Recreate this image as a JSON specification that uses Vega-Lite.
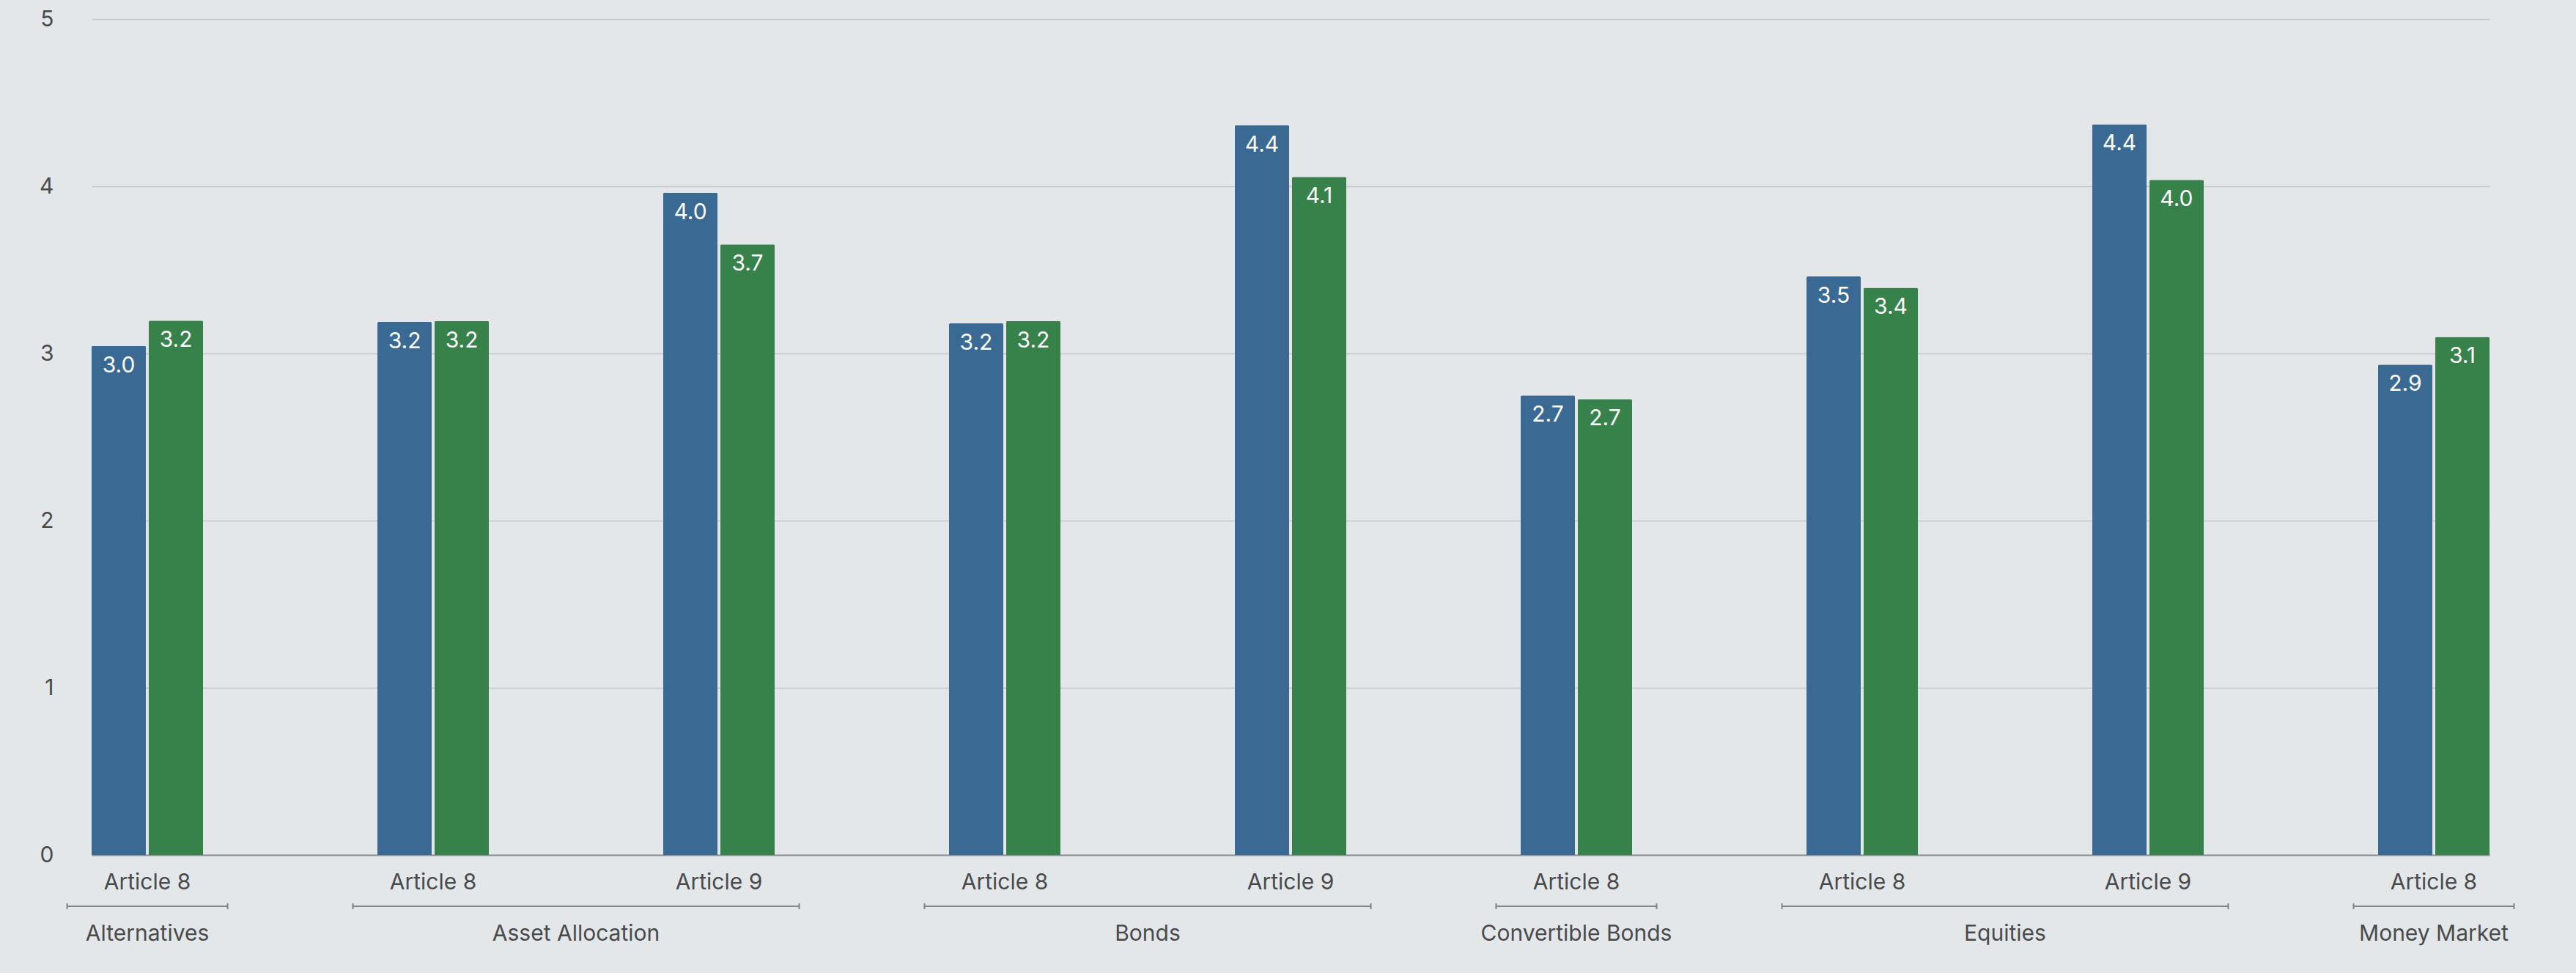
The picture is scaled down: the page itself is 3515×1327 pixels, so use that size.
{
  "$schema": "https://vega.github.io/schema/vega-lite/v6.json",
  "width": 3272,
  "height": 1140,
  "autosize": {"type": "none"},
  "padding": {"left": 125, "top": 26, "right": 118, "bottom": 161},
  "background": "#e3e7ea",
  "config": {
    "view": {"stroke": null},
    "font": "Inter",
    "axis": {"title": null},
    "axisX": {
      "labelAngle": 0, "labelFontSize": 30, "labelFont": "Inter", "labelColor": "#4a4a4a", "labelPadding": 22,
      "ticks": false, "domainColor": "#8c8f92", "domainWidth": 2, "grid": false
    },
    "axisY": {
      "labelFontSize": 30, "labelFont": "Inter", "labelColor": "#4a4a4a", "labelPadding": 52,
      "domain": false, "ticks": false, "gridColor": "#c4c8cc", "gridWidth": 1.5
    }
  },
  "datasets": {
    "bars": [
      {"key": "Alternatives|Article 8", "series": "Series 1", "value": 3.045},
      {"key": "Alternatives|Article 8", "series": "Series 2", "value": 3.196},
      {"key": "Asset Allocation|Article 8", "series": "Series 1", "value": 3.189},
      {"key": "Asset Allocation|Article 8", "series": "Series 2", "value": 3.194},
      {"key": "Asset Allocation|Article 9", "series": "Series 1", "value": 3.962},
      {"key": "Asset Allocation|Article 9", "series": "Series 2", "value": 3.652},
      {"key": "Bonds|Article 8", "series": "Series 1", "value": 3.18},
      {"key": "Bonds|Article 8", "series": "Series 2", "value": 3.194},
      {"key": "Bonds|Article 9", "series": "Series 1", "value": 4.365},
      {"key": "Bonds|Article 9", "series": "Series 2", "value": 4.056},
      {"key": "Convertible Bonds|Article 8", "series": "Series 1", "value": 2.749},
      {"key": "Convertible Bonds|Article 8", "series": "Series 2", "value": 2.727},
      {"key": "Equities|Article 8", "series": "Series 1", "value": 3.46},
      {"key": "Equities|Article 8", "series": "Series 2", "value": 3.393},
      {"key": "Equities|Article 9", "series": "Series 1", "value": 4.371},
      {"key": "Equities|Article 9", "series": "Series 2", "value": 4.038},
      {"key": "Money Market|Article 8", "series": "Series 1", "value": 2.933},
      {"key": "Money Market|Article 8", "series": "Series 2", "value": 3.099}
    ],
    "groups": [
      {"group": "Alternatives", "first": "Alternatives|Article 8", "last": "Alternatives|Article 8", "span": 1},
      {"group": "Asset Allocation", "first": "Asset Allocation|Article 8", "last": "Asset Allocation|Article 9", "span": 2},
      {"group": "Bonds", "first": "Bonds|Article 8", "last": "Bonds|Article 9", "span": 2},
      {"group": "Convertible Bonds", "first": "Convertible Bonds|Article 8", "last": "Convertible Bonds|Article 8", "span": 1},
      {"group": "Equities", "first": "Equities|Article 8", "last": "Equities|Article 9", "span": 2},
      {"group": "Money Market", "first": "Money Market|Article 8", "last": "Money Market|Article 8", "span": 1}
    ]
  },
  "layer": [
    {
      "data": {"name": "bars"},
      "mark": {"type": "bar", "cornerRadiusTopLeft": 2, "cornerRadiusTopRight": 2},
      "encoding": {
        "x": {
          "field": "key", "type": "nominal", "sort": null,
          "scale": {
            "domain": ["Alternatives|Article 8", "Asset Allocation|Article 8", "Asset Allocation|Article 9", "Bonds|Article 8", "Bonds|Article 9", "Convertible Bonds|Article 8", "Equities|Article 8", "Equities|Article 9", "Money Market|Article 8"],
            "paddingInner": 0.61, "paddingOuter": 0
          },
          "axis": {"title": null, "labelExpr": "split(datum.value, '|')[1]"}
        },
        "xOffset": {"field": "series", "type": "nominal", "scale": {"paddingInner": 0.05, "paddingOuter": 0}},
        "y": {
          "field": "value", "type": "quantitative",
          "scale": {"domain": [0, 5], "nice": false},
          "axis": {"title": null, "values": [0, 1, 2, 3, 4, 5], "format": "d"}
        },
        "color": {
          "field": "series", "type": "nominal",
          "scale": {"domain": ["Series 1", "Series 2"], "range": ["#3a6a94", "#37824a"]},
          "legend": null
        }
      }
    },
    {
      "data": {"name": "bars"},
      "mark": {"type": "text", "align": "center", "baseline": "alphabetic", "dy": 36, "fontSize": 30, "color": "#ffffff", "font": "Inter"},
      "encoding": {
        "x": {"field": "key", "type": "nominal"},
        "xOffset": {"field": "series", "type": "nominal"},
        "y": {"field": "value", "type": "quantitative"},
        "text": {"field": "value", "type": "quantitative", "format": ".1f"}
      }
    },
    {
      "data": {"name": "groups"},
      "mark": {"type": "rule", "color": "#808285", "strokeWidth": 2},
      "encoding": {
        "x": {"field": "first", "type": "nominal", "bandPosition": -0.22},
        "x2": {"field": "last", "bandPosition": 1.22},
        "y": {"datum": -0.307}
      }
    },
    {
      "data": {"name": "groups"},
      "mark": {"type": "rule", "color": "#808285", "strokeWidth": 2},
      "encoding": {
        "x": {"field": "first", "type": "nominal", "bandPosition": -0.22},
        "y": {"datum": -0.2895},
        "y2": {"datum": -0.3246}
      }
    },
    {
      "data": {"name": "groups"},
      "mark": {"type": "rule", "color": "#808285", "strokeWidth": 2},
      "encoding": {
        "x": {"field": "last", "type": "nominal", "bandPosition": 1.22},
        "y": {"datum": -0.2895},
        "y2": {"datum": -0.3246}
      }
    },
    {
      "data": {"name": "groups"},
      "transform": [{"filter": "datum.span == 1"}],
      "mark": {"type": "text", "align": "center", "baseline": "alphabetic", "fontSize": 30, "color": "#4a4a4a", "font": "Inter"},
      "encoding": {
        "x": {"field": "first", "type": "nominal", "bandPosition": 0.5},
        "y": {"datum": -0.513},
        "text": {"field": "group", "type": "nominal"}
      }
    },
    {
      "data": {"name": "groups"},
      "transform": [{"filter": "datum.span == 2"}],
      "mark": {"type": "text", "align": "center", "baseline": "alphabetic", "fontSize": 30, "color": "#4a4a4a", "font": "Inter"},
      "encoding": {
        "x": {"field": "first", "type": "nominal", "bandPosition": 1.782},
        "y": {"datum": -0.513},
        "text": {"field": "group", "type": "nominal"}
      }
    }
  ]
}
